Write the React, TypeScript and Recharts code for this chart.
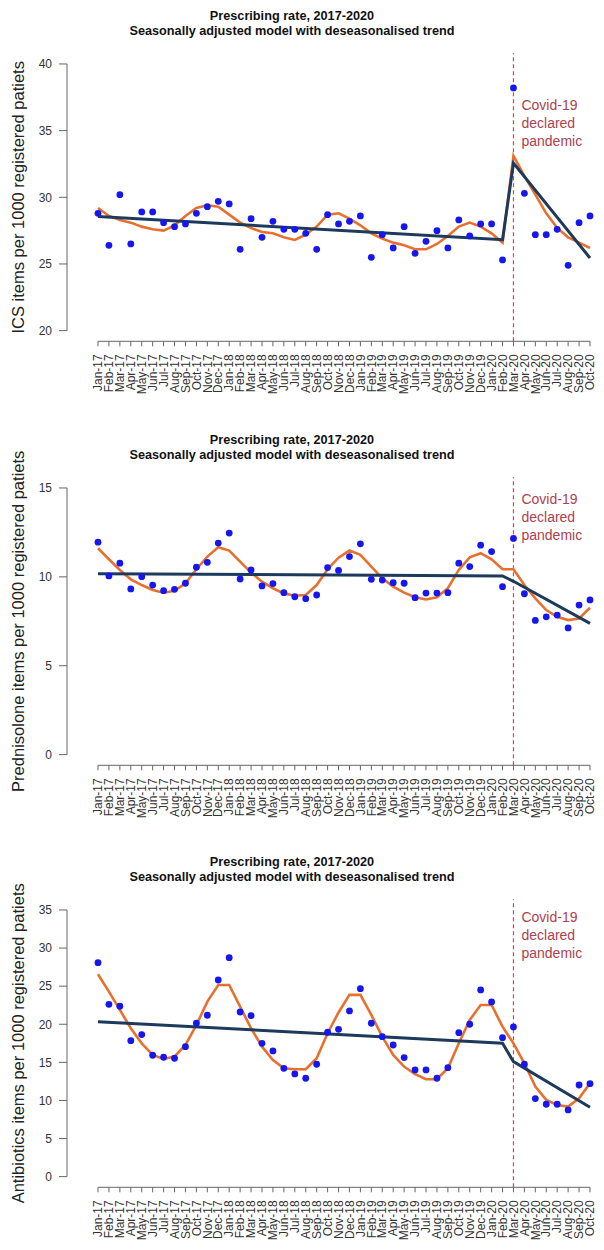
import React from 'react';
import { ComposedChart, Line, XAxis, YAxis, ReferenceLine, ReferenceDot } from 'recharts';

// ---------- data ----------
const months = [
  'Jan-17', 'Feb-17', 'Mar-17', 'Apr-17', 'May-17', 'Jun-17', 'Jul-17', 'Aug-17', 'Sep-17', 'Oct-17', 'Nov-17', 'Dec-17',
  'Jan-18', 'Feb-18', 'Mar-18', 'Apr-18', 'May-18', 'Jun-18', 'Jul-18', 'Aug-18', 'Sep-18', 'Oct-18', 'Nov-18', 'Dec-18',
  'Jan-19', 'Feb-19', 'Mar-19', 'Apr-19', 'May-19', 'Jun-19', 'Jul-19', 'Aug-19', 'Sep-19', 'Oct-19', 'Nov-19', 'Dec-19',
  'Jan-20', 'Feb-20', 'Mar-20', 'Apr-20', 'May-20', 'Jun-20', 'Jul-20', 'Aug-20', 'Sep-20', 'Oct-20',
];
const pandemicMonth = 'Mar-20';

const icsObserved = [
  28.8, 26.4, 30.2, 26.5, 28.9, 28.9, 28.1, 27.8, 28.0, 28.8, 29.3, 29.7,
  29.5, 26.1, 28.4, 27.0, 28.2, 27.6, 27.6, 27.3, 26.1, 28.7, 28.0, 28.2,
  28.6, 25.5, 27.2, 26.2, 27.8, 25.8, 26.7, 27.5, 26.2, 28.3, 27.1, 28.0,
  28.0, 25.3, 38.2, 30.3, 27.2, 27.2, 27.6, 24.9, 28.1, 28.6,
];
const icsFitted = [
  29.2, 28.6, 28.3, 28.1, 27.8, 27.6, 27.5, 27.9, 28.6, 29.2, 29.4, 29.3,
  28.7, 28.1, 27.7, 27.4, 27.3, 27.0, 26.8, 27.2, 27.8, 28.7, 28.8, 28.4,
  27.9, 27.3, 26.9, 26.6, 26.4, 26.1, 26.1, 26.5, 27.1, 27.8, 28.1, 27.8,
  27.3, 26.6, 33.1, 31.6, 30.2, 28.8, 27.7, 27.0, 26.6, 26.2,
];
const icsTrend: [string, number][] = [['Jan-17', 28.56], ['Feb-20', 26.82], ['Mar-20', 32.56], ['Oct-20', 25.45]];

const predObserved = [
  11.95, 10.05, 10.77, 9.32, 10.01, 9.54, 9.22, 9.30, 9.64, 10.54, 10.82, 11.90,
  12.46, 9.88, 10.39, 9.49, 9.62, 9.11, 8.88, 8.77, 8.98, 10.52, 10.36, 11.14,
  11.86, 9.86, 9.82, 9.67, 9.64, 8.83, 9.09, 9.09, 9.11, 10.77, 10.58, 11.78,
  11.42, 9.45, 12.16, 9.05, 7.55, 7.75, 7.85, 7.13, 8.41, 8.70,
];
const predFitted = [
  11.61, 10.99, 10.39, 9.86, 9.54, 9.26, 9.11, 9.22, 9.64, 10.43, 11.14, 11.67,
  11.48, 10.86, 10.24, 9.73, 9.36, 9.07, 8.94, 8.98, 9.54, 10.43, 11.08, 11.48,
  11.24, 10.58, 9.92, 9.45, 9.11, 8.85, 8.73, 8.85, 9.36, 10.39, 11.10, 11.33,
  10.99, 10.43, 10.43, 9.54, 8.79, 8.13, 7.75, 7.57, 7.66, 8.26,
];
const predTrend: [string, number][] = [['Jan-17', 10.18], ['Feb-20', 10.05], ['Mar-20', 9.75], ['Oct-20', 7.38]];

const abxObserved = [
  28.08, 22.62, 22.36, 17.85, 18.64, 15.93, 15.67, 15.54, 17.06, 20.13, 21.18, 25.81,
  28.74, 21.61, 21.13, 17.50, 16.50, 14.22, 13.48, 12.91, 14.75, 18.95, 19.34, 21.75,
  24.67, 20.13, 18.37, 17.28, 15.62, 14.00, 14.00, 12.91, 14.30, 18.90, 20.00, 24.50,
  22.93, 18.24, 19.65, 14.75, 10.24, 9.50, 9.50, 8.75, 12.03, 12.20,
];
const abxFitted = [
  26.56, 24.28, 21.88, 19.47, 17.50, 15.97, 15.45, 15.75, 17.28, 19.90, 22.97, 25.16,
  25.16, 22.31, 19.47, 17.06, 15.31, 14.22, 14.09, 14.09, 15.54, 18.82, 21.55, 23.85,
  23.85, 21.22, 18.37, 15.97, 14.44, 13.44, 12.78, 12.78, 14.22, 17.50, 20.56, 22.53,
  22.53, 19.69, 17.50, 14.88, 11.81, 10.07, 9.41, 9.19, 10.29, 12.26,
];
const abxTrend: [string, number][] = [['Jan-17', 20.34], ['Feb-20', 17.5], ['Mar-20', 15.09], ['Oct-20', 9.1]];

const icsTicks = [20, 25, 30, 35, 40];
const predTicks = [0, 5, 10, 15];
const abxTicks = [0, 5, 10, 15, 20, 25, 30, 35];

const titleLine1 = 'Prescribing rate, 2017-2020';
const titleLine2 = 'Seasonally adjusted model with deseasonalised trend';
const covidLines = ['Covid-19', 'declared', 'pandemic'];

// ---------- style ----------
const W = 604;
const PANEL_H = 424;
const MARGIN_TOP = 53.3;
const PLOT_H = 288;
const XAXIS_H = 62;
const PLOT_RIGHT = 600;
const X_MIN = -2.835;
const X_MAX = 45.915;
const FONT = '"Liberation Sans", Arial, Helvetica, sans-serif';
const AXIS = '#666';
const TICK_TEXT = '#333';
const BLUE = '#1616ee';
const ORANGE = '#e8702f';
const NAVY = '#1d3a5c';
const RED_LINE = '#d8405e';
const RED_TEXT = '#b0404e';

function buildRows(obs: number[], fit: number[], trend: [string, number][]) {
  return months.map((m, i) => {
    const t = trend.find((p) => p[0] === m);
    return { i, label: m, obs: obs[i], fit: fit[i], trend: t ? t[1] : null };
  });
}

const XTick = (props: any) => {
  const { x, y, payload } = props;
  return (
    <text
      x={x}
      y={y}
      transform={`rotate(-90, ${x}, ${y})`}
      textAnchor="end"
      dy="0.35em"
      fontSize={12}
      fill={TICK_TEXT}
      fontFamily={FONT}
    >
      {months[payload.value]}
    </text>
  );
};

const CovidLabel = (props: any) => {
  const vb = props.viewBox || {};
  const x = (vb.x ?? 0) + (vb.width ?? 0) / 2 + 8;
  const y = (vb.y ?? 0) + (vb.height ?? 0) / 2;
  return (
    <text x={x} y={y} fill={RED_TEXT} fontSize={14} fontFamily={FONT}>
      {covidLines.map((l, k) => (
        <tspan key={k} x={x} dy={k === 0 ? '0.35em' : 18}>
          {l}
        </tspan>
      ))}
    </text>
  );
};

type PanelProps = {
  top: number;
  obs: number[];
  fit: number[];
  trend: [string, number][];
  ticks: number[];
  yLabel: string;
  covidY: number;
};

function Panel({ top, obs, fit, trend, ticks, yLabel, covidY }: PanelProps) {
  const data = buildRows(obs, fit, trend);
  const lo = ticks[0];
  const hi = ticks[ticks.length - 1];
  const ext = (hi - lo) * 0.04;
  const domain = [lo - ext, hi + ext];
  const idx = months.map((_, i) => i);
  const pIdx = months.indexOf(pandemicMonth);
  const cy = MARGIN_TOP + PLOT_H / 2;
  return (
    <div style={{ position: 'absolute', left: 0, top, width: W, height: PANEL_H }}>
      <ComposedChart
        width={W}
        height={PANEL_H}
        data={data}
        margin={{ top: MARGIN_TOP, right: W - PLOT_RIGHT, bottom: PANEL_H - MARGIN_TOP - PLOT_H - XAXIS_H, left: 0 }}
      >
        <XAxis
          dataKey="i"
          type="number"
          domain={[X_MIN, X_MAX]}
          ticks={idx}
          interval={0}
          allowDataOverflow
          axisLine={false}
          tickLine={{ stroke: AXIS }}
          tickSize={5}
          tickMargin={8}
          height={XAXIS_H}
          tick={<XTick />}
        />
        <YAxis
          type="number"
          domain={domain}
          ticks={ticks}
          interval={0}
          allowDataOverflow
          axisLine={false}
          tickLine={{ stroke: AXIS }}
          tickSize={8}
          tickMargin={7}
          width={67}
          tick={{ fontSize: 12, fill: TICK_TEXT, fontFamily: FONT }}
          label={() => (
            <text
              x={18.5}
              y={cy}
              transform={`rotate(-90, 18.5, ${cy})`}
              textAnchor="middle"
              dominantBaseline="central"
              fontSize={16.5}
              fill="#222"
              fontFamily={FONT}
            >
              {yLabel}
            </text>
          )}
        />
        <ReferenceLine
          segment={[{ x: X_MIN, y: lo }, { x: X_MIN, y: hi }]}
          stroke={AXIS}
          strokeWidth={1}
          ifOverflow="visible"
        />
        <ReferenceLine
          segment={[{ x: 0, y: domain[0] }, { x: months.length - 1, y: domain[0] }]}
          stroke={AXIS}
          strokeWidth={1}
          ifOverflow="visible"
        />
        <ReferenceLine x={pIdx} stroke={RED_LINE} strokeDasharray="4 3" strokeWidth={1.2} strokeOpacity={1} />
        <ReferenceDot x={pIdx} y={covidY} r={0} fill="none" stroke="none" ifOverflow="visible" label={<CovidLabel />} />
        <Line
          dataKey="obs"
          stroke="none"
          dot={{ r: 3.4, fill: BLUE, stroke: 'none' }}
          activeDot={false}
          isAnimationActive={false}
        />
        <Line
          dataKey="fit"
          type="linear"
          stroke={ORANGE}
          strokeWidth={2.6}
          dot={false}
          activeDot={false}
          isAnimationActive={false}
        />
        <Line
          dataKey="trend"
          type="linear"
          stroke={NAVY}
          strokeWidth={3}
          connectNulls
          dot={false}
          activeDot={false}
          isAnimationActive={false}
        />
      </ComposedChart>
      <div
        style={{
          position: 'absolute',
          left: 0,
          top: 8.8,
          width: 584,
          textAlign: 'center',
          fontFamily: FONT,
          fontWeight: 'bold',
          fontSize: 12.7,
          lineHeight: '15px',
          color: '#111',
        }}
      >
        <div>{titleLine1}</div>
        <div>{titleLine2}</div>
      </div>
    </div>
  );
}

export default function App() {
  return (
    <div style={{ position: 'absolute', left: 0, top: 0, width: W, height: 1250, background: '#fff' }}>
      <Panel
        top={0}
        obs={icsObserved}
        fit={icsFitted}
        trend={icsTrend}
        ticks={icsTicks}
        yLabel="ICS items per 1000 registered patiets"
        covidY={36.9}
      />
      <Panel
        top={424.4}
        obs={predObserved}
        fit={predFitted}
        trend={predTrend}
        ticks={predTicks}
        yLabel="Prednisolone items per 1000 registered patiets"
        covidY={14.4}
      />
      <Panel
        top={846}
        obs={abxObserved}
        fit={abxFitted}
        trend={abxTrend}
        ticks={abxTicks}
        yLabel="Antibiotics items per 1000 registered patiets"
        covidY={34.1}
      />
    </div>
  );
}
